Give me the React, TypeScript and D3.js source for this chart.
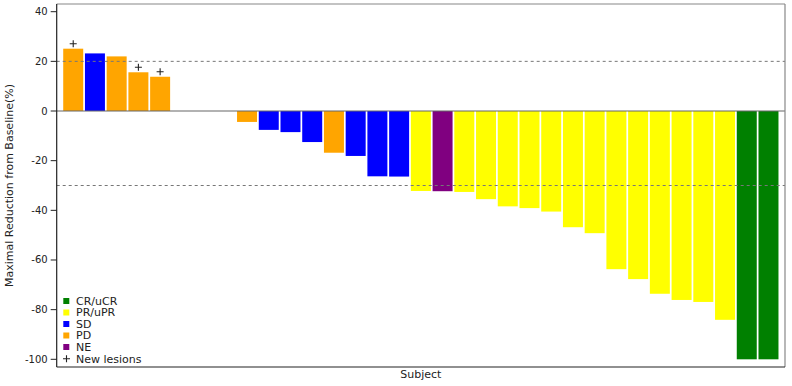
import * as d3 from 'd3';
import React from 'react';

// one entry per subject, sorted as in the waterfall
const subjects = d3.range(1, 34).map((i) => `S${i}`);
const changes = [
  25.1, 23.2, 22.0, 15.6, 13.8, 0, 0, 0, -4.4, -7.6, -8.5, -12.5, -16.8, -18.1, -26.3, -26.4,
  -32.2, -32.3, -32.6, -35.5, -38.4, -39.1, -40.5, -46.8, -49.2, -63.7, -67.7, -73.6, -76.1,
  -76.9, -84.1, -100, -100,
];
const responses = [
  'PD', 'SD', 'PD', 'PD', 'PD', 'SD', 'SD', 'SD', 'PD', 'SD', 'SD', 'SD', 'PD', 'SD', 'SD', 'SD',
  'PR/uPR', 'NE', 'PR/uPR', 'PR/uPR', 'PR/uPR', 'PR/uPR', 'PR/uPR', 'PR/uPR', 'PR/uPR', 'PR/uPR',
  'PR/uPR', 'PR/uPR', 'PR/uPR', 'PR/uPR', 'PR/uPR', 'CR/uCR', 'CR/uCR',
];
const newLesions = ['S1', 'S4', 'S5'];

const legendKeys = ['CR/uCR', 'PR/uPR', 'SD', 'PD', 'NE'];
const legendColors = ['#008000', '#ffff00', '#0000ff', '#ffa500', '#800080'];
const yTicks = [40, 20, 0, -20, -40, -60, -80, -100];
const refLines = [20, -30];

const W = 792;
const H = 386;
const left = 56.7;
const right = 785;
const top = 4;
const bottom = 367;
const font = 'DejaVu Sans, Verdana, sans-serif';

const App = () => {
  const x = d3.scaleBand<string>().domain(subjects).range([left, right]).paddingInner(0.08).paddingOuter(0.3);
  const y = d3.scaleLinear().domain([-103.1, 43.1]).range([bottom, top]);
  const color = d3.scaleOrdinal<string, string>().domain(legendKeys).range(legendColors);

  return (
    <svg width={W} height={H} style={{ position: 'absolute', left: 0, top: 0, background: '#fff' }} fontFamily={font}>
      {subjects.map((s, i) => (
        <rect
          key={s}
          x={x(s)}
          width={x.bandwidth()}
          y={y(Math.max(0, changes[i]))}
          height={Math.abs(y(changes[i]) - y(0))}
          fill={color(responses[i])}
        />
      ))}
      {refLines.map((v) => (
        <line key={v} x1={left} x2={right} y1={y(v)} y2={y(v)} stroke="#777" strokeWidth={1} strokeDasharray="3,3" />
      ))}
      <line x1={left} x2={right} y1={y(0)} y2={y(0)} stroke="#666" strokeWidth={1.2} />
      {subjects.map((s, i) =>
        newLesions.includes(s) ? (
          <path
            key={'p' + s}
            d={`M${x(s)! + x.bandwidth() / 2 - 3.5},${y(changes[i]) - 5}h7M${x(s)! + x.bandwidth() / 2},${y(changes[i]) - 8.5}v7`}
            stroke="#222"
            strokeWidth={1.1}
          />
        ) : null
      )}
      {/* frame */}
      <line x1={left} x2={right} y1={top} y2={top} stroke="#888" strokeWidth={1.2} />
      <line x1={right} x2={right} y1={top} y2={bottom} stroke="#888" strokeWidth={1.2} />
      <line x1={left} x2={left} y1={top} y2={bottom} stroke="#222" strokeWidth={1.2} />
      <line x1={left} x2={right} y1={bottom} y2={bottom} stroke="#222" strokeWidth={1.2} />
      {yTicks.map((t) => (
        <g key={t}>
          <line x1={left - 6} x2={left} y1={y(t)} y2={y(t)} stroke="#222" strokeWidth={1} />
          <text x={left - 9} y={y(t)} dy="0.35em" textAnchor="end" fontSize={10} fill="#222">
            {t}
          </text>
        </g>
      ))}
      <text
        transform={`translate(13,${(top + bottom) / 2}) rotate(-90)`}
        textAnchor="middle"
        fontSize={11}
        fill="#222"
      >
        Maximal Reduction from Baseline(%)
      </text>
      <text x={(left + right) / 2} y={378} textAnchor="middle" fontSize={11} fill="#222">
        Subject
      </text>
      {legendKeys.map((k, i) => (
        <g key={k}>
          <rect x={63.3} y={301 + i * 11.5 - 3} width={6} height={6} fill={legendColors[i]} />
          <text x={76} y={301 + i * 11.5} dy="0.35em" fontSize={11} fill="#222">
            {k}
          </text>
        </g>
      ))}
      <path d={`M63,${358.7}h7M66.5,${355.2}v7`} stroke="#222" strokeWidth={1.1} />
      <text x={76} y={358.7} dy="0.35em" fontSize={11} fill="#222">
        New lesions
      </text>
    </svg>
  );
};

export default App;
